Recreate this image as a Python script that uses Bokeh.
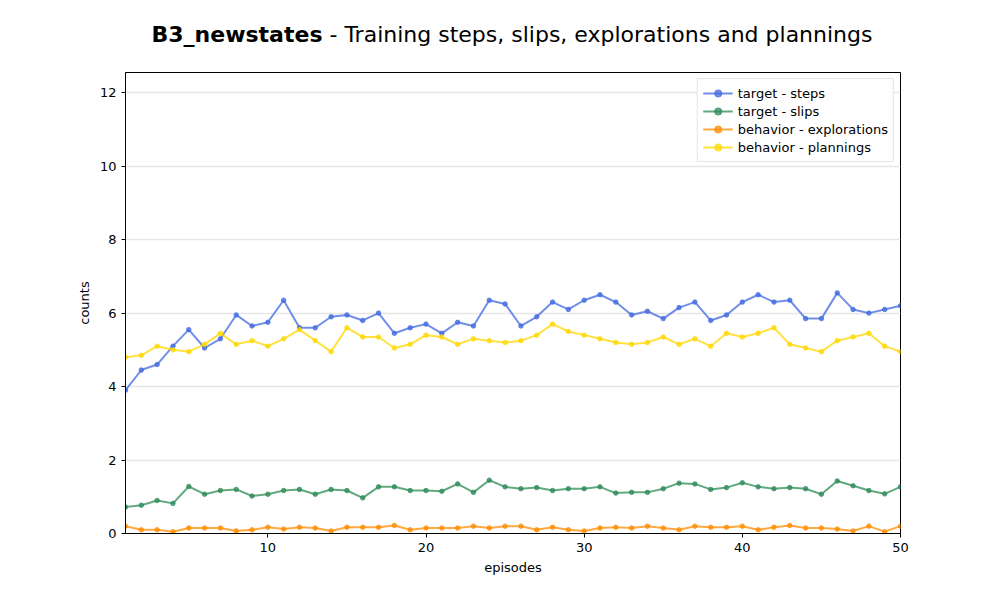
from bokeh.plotting import figure
from bokeh.models import Div, Range1d, FixedTicker, Legend
from bokeh.layouts import column
from bokeh.embed import file_html
from bokeh.resources import INLINE

episodes = list(range(1, 51))
steps = [3.9,4.45,4.6,5.1,5.55,5.05,5.3,5.95,5.65,5.75,6.35,5.6,5.6,5.9,5.95,5.8,6.0,5.45,5.6,5.7,
         5.45,5.75,5.65,6.35,6.25,5.65,5.9,6.3,6.1,6.35,6.5,6.3,5.95,6.05,5.85,6.15,6.3,5.8,5.95,6.3,
         6.5,6.3,6.35,5.85,5.85,6.55,6.1,6.0,6.1,6.2]
slips = [0.72,0.77,0.9,0.82,1.28,1.07,1.17,1.2,1.02,1.07,1.17,1.2,1.07,1.2,1.17,0.97,1.27,1.27,1.17,1.17,
         1.15,1.35,1.12,1.45,1.27,1.22,1.25,1.17,1.22,1.22,1.27,1.1,1.12,1.12,1.22,1.37,1.35,1.2,1.25,1.38,
         1.27,1.22,1.25,1.22,1.07,1.43,1.3,1.17,1.08,1.27]
explorations = [0.2,0.1,0.1,0.05,0.15,0.15,0.15,0.07,0.1,0.17,0.12,0.17,0.15,0.07,0.17,0.17,0.17,0.22,0.1,0.15,
                0.15,0.15,0.2,0.15,0.2,0.2,0.1,0.17,0.1,0.07,0.15,0.17,0.15,0.2,0.15,0.1,0.2,0.17,0.17,0.2,
                0.1,0.17,0.22,0.15,0.15,0.12,0.07,0.2,0.05,0.2]
plannings = [4.8,4.85,5.1,5.0,4.95,5.15,5.45,5.15,5.25,5.1,5.3,5.55,5.25,4.95,5.6,5.35,5.35,5.05,5.15,5.4,
             5.35,5.15,5.3,5.25,5.2,5.25,5.4,5.7,5.5,5.4,5.3,5.2,5.15,5.2,5.35,5.15,5.3,5.1,5.45,5.35,
             5.45,5.6,5.15,5.05,4.95,5.25,5.35,5.45,5.1,4.95]

series = [("target - steps", steps, "#4169e1"),
          ("target - slips", slips, "#2e8b57"),
          ("behavior - explorations", explorations, "#ff8c00"),
          ("behavior - plannings", plannings, "#ffd700")]

FONT = "DejaVu Sans"
title = Div(text='<div style="width:984px;text-align:center;font-family:\'DejaVu Sans\';font-size:22px;padding-top:14px;padding-left:30px;color:black">'
                 '<b>B3_newstates</b> - Training steps, slips, explorations and plannings</div>',
            width=984, height=52)

p = figure(width=984, height=530, output_backend="svg", toolbar_location=None,
           x_range=Range1d(1, 50), y_range=Range1d(0, 12.55),
           min_border_left=125, min_border_right=84, min_border_top=10, min_border_bottom=59)
p.outline_line_color = "black"
p.xgrid.visible = False
p.ygrid.grid_line_color = "#e6e6e6"
p.ygrid.grid_line_width = 1.5
p.xaxis.ticker = FixedTicker(ticks=[10, 20, 30, 40, 50])
p.yaxis.ticker = FixedTicker(ticks=[0, 2, 4, 6, 8, 10, 12])
for ax in (p.xaxis[0], p.yaxis[0]):
    ax.minor_tick_line_color = None
    ax.major_tick_in = 0
    ax.major_tick_out = 4
    ax.axis_line_color = "black"
    ax.major_tick_line_color = "black"
    ax.major_label_text_color = "black"
    ax.axis_label_text_color = "black"
    ax.major_label_text_font = FONT
    ax.major_label_text_font_size = "13px"
    ax.axis_label_text_font = FONT
    ax.axis_label_text_font_size = "13px"
    ax.axis_label_text_font_style = "normal"
p.xaxis.axis_label = "episodes"
p.yaxis.axis_label = "counts"

items = []
for name, vals, col in series:
    l = p.line(episodes, vals, line_color=col, line_width=2, line_alpha=0.75)
    c = p.scatter(episodes, vals, size=4.5, fill_color=col, line_color=col, alpha=0.75)
    items.append((name, [l, c]))

leg = Legend(items=items, location="top_right", label_text_font=FONT, label_text_font_size="13px",
             label_text_color="black",
             border_line_color="#cccccc", spacing=0, padding=5, margin=6,
             label_height=18, glyph_height=18, glyph_width=30)
p.add_layout(leg)

layout = column(title, p, spacing=0)
open("out.html", "w").write(file_html(layout, INLINE))
